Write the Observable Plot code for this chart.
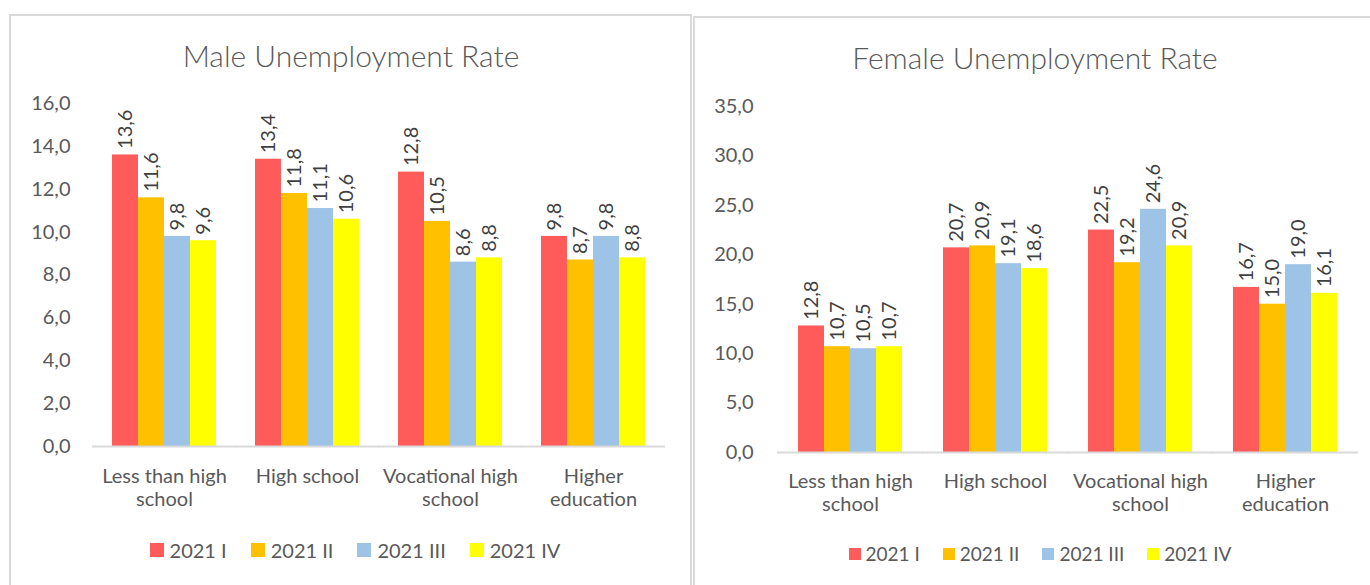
<!DOCTYPE html>
<html><head><meta charset="utf-8">
<script src="https://cdn.jsdelivr.net/npm/d3@7"></script>
<script src="https://cdn.jsdelivr.net/npm/@observablehq/plot@0.6"></script>
<style>
body{margin:0;background:#fff;font-family:Lato,"Open Sans",sans-serif;width:1370px;height:585px;position:relative;overflow:hidden}
.panel{position:absolute;border:2px solid #d9d9d9;box-sizing:border-box;background:#fff}
.title{position:absolute;color:#595959;font-size:30px;font-weight:300;text-align:center;white-space:nowrap;line-height:1}
.chart{position:absolute}
.legend{position:absolute;display:flex;justify-content:center;align-items:center;color:#595959;white-space:nowrap;line-height:1}
.legend .item{display:flex;align-items:center}
.legend .sw{display:inline-block}
</style>
</head><body>
<div class="panel" style="left:9px;top:14px;width:683px;height:620px"></div>
<div class="panel" style="left:693px;top:16px;width:690px;height:620px"></div>
<div class="title" style="left:51px;width:600px;top:40px">Male Unemployment Rate</div>
<div class="title" style="left:735px;width:600px;top:42px">Female Unemployment Rate</div>
<div id="male" class="chart" style="left:0;top:80px"></div>
<div id="female" class="chart" style="left:694px;top:80px"></div>
<div id="legM" class="legend" style="left:55px;width:600px;top:540px;font-size:20px"></div>
<div id="legF" class="legend" style="left:740px;width:600px;top:544px;font-size:19px"></div>
<script>
const categories = ["Less than high school","High school","Vocational high school","Higher education"];
const categoryLabels = ["Less than high\nschool","High school","Vocational high\nschool","Higher\neducation"];
const series = ["2021 I","2021 II","2021 III","2021 IV"];
const colors = ["#ff5b5b","#ffc000","#9dc3e6","#ffff00"];
const maleValues = [
  [13.6, 11.6, 9.8, 9.6],
  [13.4, 11.8, 11.1, 10.6],
  [12.8, 10.5, 8.6, 8.8],
  [9.8, 8.7, 9.8, 8.8]
];
const femaleValues = [
  [12.8, 10.7, 10.5, 10.7],
  [20.7, 20.9, 19.1, 18.6],
  [22.5, 19.2, 24.6, 20.9],
  [16.7, 15.0, 19.0, 16.1]
];
const maleTicks = [0, 2, 4, 6, 8, 10, 12, 14, 16];
const femaleTicks = [0, 5, 10, 15, 20, 25, 30, 35];

const fmt = d => d.toFixed(1).replace(".", ",");

function chart(values, ticks, o) {
  const data = [];
  categories.forEach((c, i) => series.forEach((s, j) => data.push({cat: c, series: s, value: values[i][j]})));
  return Plot.plot({
    width: o.width, height: o.height,
    marginLeft: o.ml, marginRight: o.mr, marginTop: o.mt, marginBottom: o.mb,
    style: {fontFamily: "Lato, 'Open Sans', sans-serif", fontSize: "20px", color: "#595959", background: "transparent", overflow: "visible"},
    fx: {domain: categories, paddingInner: 0.27, paddingOuter: 0.135, label: null},
    x: {domain: series, axis: null, paddingInner: 0, paddingOuter: 0},
    y: {domain: [0, ticks[ticks.length - 1]], label: null},
    color: {domain: series, range: colors},
    marks: [
      Plot.axisY({ticks: ticks, tickSize: 0, tickPadding: 3, dx: o.yDx, tickFormat: fmt, label: null, fill: "#595959", fontSize: 20}),
      Plot.axisFx({anchor: "bottom", tickSize: 0, tickPadding: o.fxPad, label: null, lineHeight: 1.15,
        tickFormat: d => categoryLabels[categories.indexOf(d)], fill: "#595959", fontSize: 20}),
      Plot.barY(data, {fx: "cat", x: "series", y: "value", fill: "series"}),
      Plot.ruleY([0], {stroke: "#d9d9d9", strokeWidth: 2, insetLeft: -20, insetRight: -20}),
      Plot.text(data, {fx: "cat", x: "series", y: "value", text: d => fmt(d.value), rotate: -90,
        textAnchor: "start", dy: -6, fontSize: 20, fill: "#404040"})
    ]
  });
}

document.getElementById("male").append(chart(maleValues, maleTicks,
  {width: 690, height: 440, ml: 93, mr: 25, mt: 23, mb: 74, fxPad: 20, yDx: -39}));
document.getElementById("female").append(chart(femaleValues, femaleTicks,
  {width: 676, height: 440, ml: 83, mr: 12, mt: 26, mb: 68, fxPad: 19, yDx: -41}));

function legend(id, sq, gap, tgap) {
  const el = document.getElementById(id);
  series.forEach((s, i) => {
    const it = document.createElement("span");
    it.className = "item";
    if (i > 0) it.style.marginLeft = gap + "px";
    const sw = document.createElement("span");
    sw.className = "sw";
    sw.style.width = sq + "px"; sw.style.height = sq + "px"; sw.style.background = colors[i];
    sw.style.marginRight = tgap + "px";
    const t = document.createElement("span");
    t.textContent = s;
    it.append(sw, t);
    el.append(it);
  });
}
legend("legM", 14, 24, 6);
legend("legF", 12, 23, 5);
</script>
</body></html>
